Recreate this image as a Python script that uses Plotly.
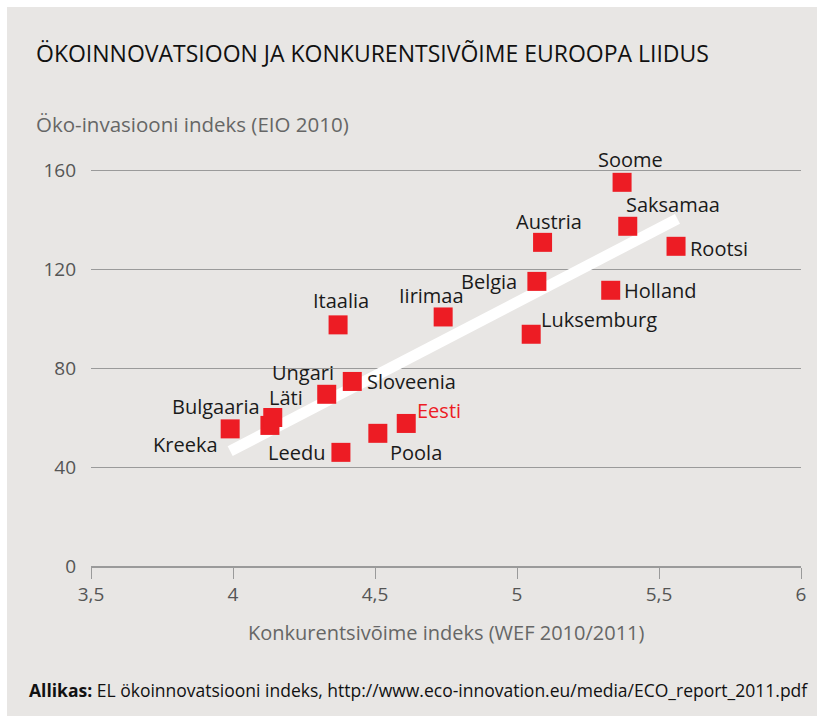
import plotly.graph_objects as go

# ---- data ----
countries = ["Kreeka", "Bulgaaria", "Läti", "Ungari", "Sloveenia", "Leedu", "Poola", "Eesti",
             "Itaalia", "Iirimaa", "Luksemburg", "Belgia", "Austria", "Holland", "Soome",
             "Saksamaa", "Rootsi"]
wef = [3.99, 4.13, 4.14, 4.33, 4.42, 4.38, 4.51, 4.61,
       4.37, 4.74, 5.05, 5.07, 5.09, 5.33, 5.37, 5.39, 5.56]
eio = [55.5, 56.9, 60.1, 69.5, 74.7, 46.0, 53.7, 57.7,
       97.6, 100.8, 93.8, 115.2, 131.0, 111.6, 155.3, 137.5, 129.4]
trend_x = [3.99, 5.565]
trend_y = [46.5, 140.5]
x_ticks = [3.5, 4, 4.5, 5, 5.5, 6]
x_tick_labels = ["3,5", "4", "4,5", "5", "5,5", "6"]
y_ticks = [0, 40, 80, 120, 160]

# label placement: (anchor, xshift, yshift)
label_pos = {
    "Kreeka": ("right", -10, -16),
    "Bulgaaria": ("right", -8, 19),
    "Läti": ("left", -6, 20),
    "Ungari": ("right", 9, 22),
    "Sloveenia": ("left", 13, 0),
    "Leedu": ("right", -14, 0),
    "Poola": ("left", 10, -19),
    "Eesti": ("left", 9, 13),
    "Itaalia": ("center", 3, 24),
    "Iirimaa": ("center", -12, 21),
    "Luksemburg": ("left", 8, 15),
    "Belgia": ("right", -18, 0),
    "Austria": ("center", 6, 21),
    "Holland": ("left", 11, 0),
    "Soome": ("center", 8, 23),
    "Saksamaa": ("left", -4, 22),
    "Rootsi": ("left", 12, -2),
}

FONT = "Open Sans"
BG = "#e8e6e4"
RED = "#ed1c24"

fig = go.Figure()
fig.add_trace(go.Scatter(x=trend_x, y=trend_y, mode="lines",
                         line=dict(color="white", width=11), hoverinfo="skip"))
fig.add_trace(go.Scatter(x=wef, y=eio, mode="markers", text=countries,
                         marker=dict(symbol="square", size=19, color=RED, line=dict(width=0))))

annotations = []
for c, xv, yv in zip(countries, wef, eio):
    anc, xs, ys = label_pos[c]
    annotations.append(dict(x=xv, y=yv, xref="x", yref="y", text=c, showarrow=False,
                            xanchor=anc, yanchor="middle", xshift=xs, yshift=ys,
                            font=dict(family=FONT, size=20,
                                      color=RED if c == "Eesti" else "#1a1a1a")))

annotations += [
    dict(text="ÖKOINNOVATSIOON JA KONKURENTSIVÕIME EUROOPA LIIDUS", xref="paper", yref="paper",
         x=-0.0803, y=1.2214, xanchor="left", yanchor="middle", showarrow=False,
         font=dict(family=FONT, size=23, color="#111")),
    dict(text="Öko-invasiooni indeks (EIO 2010)", xref="paper", yref="paper",
         x=-0.0803, y=1.0524, xanchor="left", yanchor="middle", showarrow=False,
         font=dict(family=FONT, size=20.5, color="#666")),
    dict(text="Konkurentsivõime indeks (WEF 2010/2011)", xref="paper", yref="paper",
         x=0.5, y=-0.1595, xanchor="center", yanchor="middle", showarrow=False,
         font=dict(family=FONT, size=20, color="#666")),
    dict(text="<b>Allikas:</b> EL ökoinnovatsiooni indeks, http://www.eco-innovation.eu/media/ECO_report_2011.pdf",
         xref="paper", yref="paper",
         x=-0.0901, y=-0.2952, xanchor="left", yanchor="middle", showarrow=False,
         font=dict(family=FONT, size=17.5, color="#111")),
]

fig.update_layout(
    width=817, height=716,
    margin=dict(l=91, r=16, t=146, b=150),
    paper_bgcolor="white",
    plot_bgcolor="rgba(0,0,0,0)",
    showlegend=False,
    hovermode=False,
    annotations=annotations,
    shapes=[dict(type="rect", xref="paper", yref="paper", x0=-0.1183, x1=1.1,
                 y0=-0.6, y1=(566 - 7) / 420, fillcolor=BG, line=dict(width=0),
                 layer="below")],
    xaxis=dict(range=[3.5, 6], tickvals=x_ticks, ticktext=x_tick_labels,
               showgrid=False, zeroline=False, showline=True, linecolor="#9a9a9a",
               linewidth=1.5, ticks="outside", ticklen=11, tickcolor="#9a9a9a",
               tickwidth=1, tickfont=dict(family=FONT, size=19, color="#555")),
    yaxis=dict(range=[0, 170], tickvals=y_ticks, showgrid=True, gridcolor="#9a9a9a",
               gridwidth=1.3, zeroline=False, showline=False, ticks="",
               ticklabelstandoff=14, tickfont=dict(family=FONT, size=19, color="#555")),
)

fig.write_html("out.html", post_script="document.body.style.margin='0';",
               config={"displayModeBar": False, "staticPlot": True})
